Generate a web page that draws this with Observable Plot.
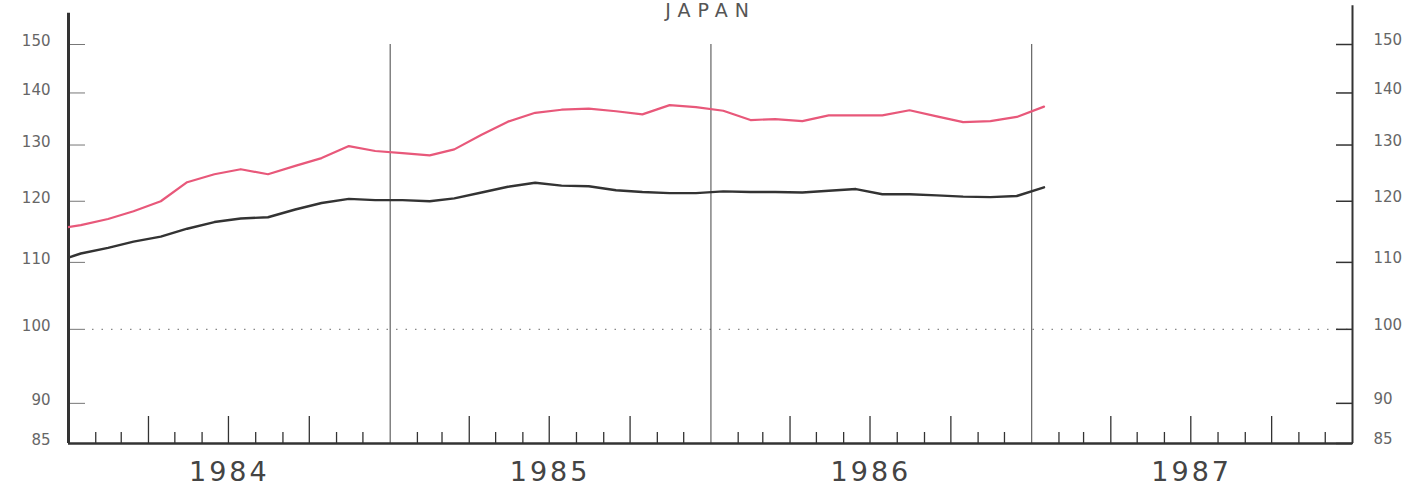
<!DOCTYPE html>
<html>
<head>
<meta charset="utf-8">
<script src="https://cdn.jsdelivr.net/npm/d3@7"></script>
<script src="https://cdn.jsdelivr.net/npm/@observablehq/plot@0.6"></script>
<style>
  html, body { margin: 0; padding: 0; background: #fff; }
  #chart { width: 1402px; height: 486px; overflow: hidden; }
</style>
</head>
<body>
<div id="chart"></div>
<script>
// ---- data (monthly, Dec 1983 .. Jan 1987, log scale) ----
const title = "JAPAN";
const firstMonth = "1983-12";
const lastMonth = "1987-01";
const pinkSeries = [115.3, 116.0, 117.0, 118.3, 120.0, 123.3, 124.7, 125.6, 124.7, 126.2, 127.6, 129.8,
  128.9, 128.5, 128.1, 129.2, 131.9, 134.4, 136.1, 136.7, 136.9, 136.4, 135.8, 137.6,
  137.2, 136.5, 134.7, 134.9, 134.5, 135.6, 135.6, 135.6, 136.6, 135.4, 134.3, 134.5,
  135.3, 137.3];
const blackSeries = [110.0, 111.4, 112.3, 113.3, 114.1, 115.4, 116.5, 117.1, 117.3, 118.6, 119.7, 120.4,
  120.2, 120.2, 120.0, 120.5, 121.5, 122.5, 123.2, 122.7, 122.6, 121.9, 121.6, 121.4,
  121.4, 121.7, 121.6, 121.6, 121.5, 121.8, 122.1, 121.2, 121.2, 121.0, 120.8, 120.7,
  120.9, 122.4];
const yTicks = [85, 90, 100, 110, 120, 130, 140, 150];
const yTickLabels = ["85", "90", "100", "110", "120", "130", "140", "150"];
const yearLabels = ["1984", "1985", "1986", "1987"];
const yDomain = [85, 150];
const baseline = 100;
const leftAxisTop = 156.8;
const rightAxisTop = 158.5;

// ---- derived tables ----
const parse = d3.utcParse("%Y-%m");
const monthStarts = d3.utcMonth.range(parse(firstMonth), d3.utcMonth.offset(parse(lastMonth), 1));
const mid = m => d3.utcDay.offset(m, 14);
const pinkData = monthStarts.map((m, i) => ({date: mid(m), value: pinkSeries[i]}));
const blackData = monthStarts.map((m, i) => ({date: mid(m), value: blackSeries[i]}));
const yLabelTable = yTicks.map((v, i) => ({value: v, label: yTickLabels[i]}));

const xStart = new Date(Date.UTC(+yearLabels[0], 0, 1));
const xEnd = new Date(Date.UTC(+yearLabels[yearLabels.length - 1] + 1, 0, 1));
const allMonths = d3.utcMonth.range(xStart, xEnd);
const monthTicks = allMonths.filter(d => d.getUTCMonth() % 3 !== 0);
const quarterTicks = allMonths.filter(d => d.getUTCMonth() % 3 === 0 && d.getUTCMonth() !== 0);
const yearBreaks = d3.utcYear.range(d3.utcYear.offset(xStart, 1), xEnd);
const yearTable = yearLabels.map(l => ({date: new Date(Date.UTC(+l, 6, 2)), label: l}));

const plot = Plot.plot({
  width: 1402,
  height: 486,
  marginLeft: 68,
  marginRight: 50,
  marginTop: 44,
  marginBottom: 43,
  style: {fontFamily: "DejaVu Sans, sans-serif", background: "#fff"},
  x: {type: "utc", domain: [xStart, xEnd], axis: null},
  y: {type: "log", domain: yDomain, axis: null},
  marks: [
    // dotted 100 reference
    Plot.ruleY([baseline], {stroke: "#888", strokeWidth: 1.2, strokeDasharray: "1.5,8", insetLeft: 24}),
    // year separators
    Plot.ruleX(yearBreaks, {y1: yDomain[0], y2: yDomain[1], stroke: "#444", strokeWidth: 1}),
    // y ticks (inward)
    Plot.axisY(yTicks, {anchor: "left", tickSize: -17, fill: "none", stroke: "#777", strokeWidth: 1, label: null}),
    Plot.axisY(yTicks, {anchor: "right", tickSize: -17, fill: "none", stroke: "#333", strokeWidth: 1.5, label: null}),
    // y tick labels
    Plot.text(yLabelTable, {y: "value", text: "label", frameAnchor: "left", textAnchor: "end", dx: -18, dy: -3, fontSize: 15, fill: "#666"}),
    Plot.text(yLabelTable, {y: "value", text: "label", frameAnchor: "right", textAnchor: "start", dx: 21, dy: -4, fontSize: 15, fill: "#666"}),
    // x ticks (inward)
    Plot.axisX(monthTicks, {anchor: "bottom", tickSize: -11, fill: "none", stroke: "#333", strokeWidth: 1.3, label: null}),
    Plot.axisX(quarterTicks, {anchor: "bottom", tickSize: -27, fill: "none", stroke: "#333", strokeWidth: 1.3, label: null}),
    // year labels
    Plot.text(yearTable, {x: "date", text: "label", frameAnchor: "bottom", lineAnchor: "top", dy: 18, fontSize: 27, fill: "#444"}),
    // frame lines
    Plot.ruleY([yDomain[0]], {stroke: "#333", strokeWidth: 2.5}),
    Plot.ruleX([xStart], {y1: yDomain[0], y2: leftAxisTop, stroke: "#333", strokeWidth: 3}),
    Plot.ruleX([xEnd], {y1: yDomain[0], y2: rightAxisTop, stroke: "#333", strokeWidth: 2}),
    // series
    Plot.line(blackData, {x: "date", y: "value", stroke: "#333", strokeWidth: 2.4, clip: true}),
    Plot.line(pinkData, {x: "date", y: "value", stroke: "#e8587a", strokeWidth: 2.2, clip: true}),
    // title
    Plot.text([title], {frameAnchor: "top", lineAnchor: "top", dy: -41, fontSize: 19, fill: "#555"})
  ]
});

plot.querySelectorAll("text").forEach(t => {
  if (yearLabels.includes(t.textContent)) t.style.letterSpacing = "3px";
  if (t.textContent === title) t.style.letterSpacing = "7px";
});

document.getElementById("chart").appendChild(plot);
</script>
</body>
</html>
